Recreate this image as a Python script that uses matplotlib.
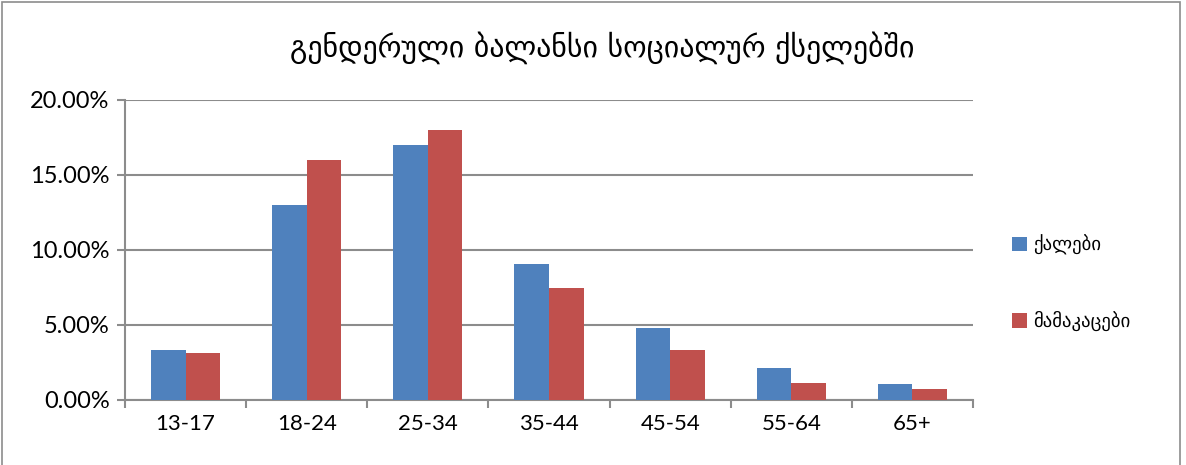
import numpy as np
import matplotlib
matplotlib.use("Agg")
import matplotlib.pyplot as plt
from matplotlib.patches import Rectangle
from matplotlib.ticker import FuncFormatter

plt.rcParams['font.family'] = ['Lato', 'DejaVu Sans']

# share of users by age group (%)
age_groups = ["13-17", "18-24", "25-34", "35-44", "45-54", "55-64", "65+"]
women = [3.35, 13.0, 17.0, 9.07, 4.77, 2.15, 1.03]
men = [3.15, 16.0, 18.0, 7.47, 3.35, 1.15, 0.72]
series_names = ["ქალები", "მამაკაცები"]
title = "გენდერული ბალანსი სოციალურ ქსელებში"

blue = "#4F81BD"
red = "#C0504D"
grid_gray = "#8C8C8C"

fig = plt.figure(figsize=(11.86, 4.65), dpi=100)
ax = fig.add_axes([0.1054, 0.140, 0.7150, 0.645])

x = np.arange(len(age_groups))
w = 1 / 3.5
ax.bar(x - w / 2, women, width=w, color=blue, label=series_names[0], zorder=3)
ax.bar(x + w / 2, men, width=w, color=red, label=series_names[1], zorder=3)

ax.set_xlim(-0.5, len(age_groups) - 0.5)
ax.set_ylim(0, 20)
ax.set_yticks(np.arange(0, 20.01, 5))
ax.yaxis.set_major_formatter(FuncFormatter(lambda v, p: "%.2f%%" % v))
ax.grid(axis="y", color=grid_gray, linewidth=1.5, zorder=0)

ax.set_xticks(x)
ax.set_xticklabels(age_groups)
ax.set_xticks(np.arange(-0.5, len(age_groups)), minor=True)
ax.tick_params(axis="x", which="major", length=0, pad=10, labelsize=16)
ax.tick_params(axis="x", which="minor", length=6, width=1.5, color=grid_gray)
ax.tick_params(axis="y", length=6, width=1.5, color=grid_gray, pad=5, labelsize=17)

for side in ["top", "right"]:
    ax.spines[side].set_visible(False)
for side in ["left", "bottom"]:
    ax.spines[side].set_color(grid_gray)
    ax.spines[side].set_linewidth(1.5)

fig.text(0.508, 0.898, title, ha="center", va="center", fontsize=21.5,
         family=["DejaVu Sans"])

leg = fig.legend(loc="center left", bbox_to_anchor=(0.839, 0.392), frameon=False,
                 fontsize=13.5, handlelength=0.8, handleheight=0.8,
                 labelspacing=3.0, handletextpad=0.35)

# chart border
fig.patches.append(Rectangle((0.002, -0.01), 0.993, 1.005, transform=fig.transFigure,
                             fill=False, edgecolor="#8C8C8C", linewidth=1.2))

fig.savefig("out.png", dpi=100)
